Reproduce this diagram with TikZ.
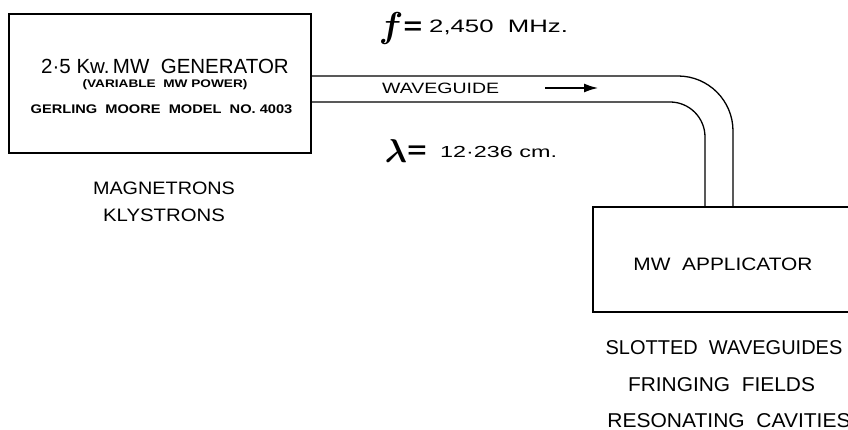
\documentclass[tikz,border=0pt]{standalone}
\usepackage{amsmath}
\usepackage{graphicx}
\usepackage{fontspec}
\setmainfont{Liberation Sans}
\usetikzlibrary{arrows.meta}
\newcommand{\hs}[2]{\scalebox{#1}[1]{#2}}
\tikzset{
  box/.style={draw, line width=1.3pt, rectangle, inner sep=0pt},
  lbl/.style={inner sep=0pt, anchor=center},
  wg/.style={line width=1.3pt},
}
\begin{document}
\begin{tikzpicture}[x=1pt,y=-1pt]
\useasboundingbox (0,0) rectangle (848,430);
\clip (0,0) rectangle (848,430);
% generator box
\node[box, minimum width=302pt, minimum height=139pt] (gen) at (160,83.5) {};
\node[lbl] (t1) at (165,66) {\fontsize{20.5}{20.5}\selectfont 2·5 Kw.\,MW\ \ GENERATOR};
\node[lbl] (t2) at (165,85) {\hs{1.24}{\fontsize{11}{11}\selectfont\bfseries (VARIABLE\ \ MW POWER)}};
\node[lbl] (t3) at (161.5,109) {\hs{1.17}{\fontsize{12.5}{12.5}\selectfont\bfseries GERLING\ \ MOORE\ \ MODEL\ \ NO.\ 4003}};
\node[lbl] (m1) at (164,188.5) {\hs{1.1}{\fontsize{18}{18}\selectfont MAGNETRONS}};
\node[lbl] (m2) at (164,215) {\hs{1.13}{\fontsize{18}{18}\selectfont KLYSTRONS}};
% applicator box
\node[box, minimum width=280pt, minimum height=105pt] (app) at (733,259.5) {};
\node[lbl] (a1) at (723,264) {\hs{1.16}{\fontsize{18}{18}\selectfont MW\ \ APPLICATOR}};
\node[lbl] (s1) at (724,347.5) {\fontsize{20}{20}\selectfont SLOTTED\ \ WAVEGUIDES};
\node[lbl] (s2) at (721.5,385) {\hs{1.045}{\fontsize{20}{20}\selectfont FRINGING\ \ FIELDS}};
\node[lbl] (s3) at (729,421) {\hs{1.05}{\fontsize{20}{20}\selectfont RESONATING\ \ CAVITIES}};
% waveguide
\draw[wg, rounded corners=55pt] (gen.east |- 0,76) -- (733,76) -- (733,0 |- app.north);
\draw[wg, rounded corners=35pt] (gen.east |- 0,102) -- (705,102) -- (705,0 |- app.north);
\node[lbl, anchor=west] (wl) at (382,88) {\hs{1.3}{\fontsize{15}{15}\selectfont WAVEGUIDE}};
\coordinate (ar1) at (545,88);
\coordinate (ar2) at (599,88);
\draw[line width=2.6pt, -{Latex[length=15pt,width=9pt]}] (ar1) -- (ar2);
% frequency
\node[lbl] (fs) at (391,29) {\scalebox{3.6}{$\boldsymbol{f}$}};
\node[lbl] (fe) at (413,28) {\scalebox{1.45}[1.1]{\fontsize{22}{22}\selectfont\bfseries =}};
\node[inner sep=0pt, anchor=base west] (fv) at (429,33) {\hs{1.43}{\fontsize{18}{18}\selectfont 2,450\ \ MHz.}};
% wavelength
\node[lbl] (ls) at (396,151.5) {\scalebox{3.3}{$\boldsymbol{\lambda}$}};
\node[lbl] (le) at (417,152) {\scalebox{1.5}[1.1]{\fontsize{22}{22}\selectfont\bfseries =}};
\node[inner sep=0pt, anchor=base west] (lv) at (440,158) {\hs{1.46}{\fontsize{16}{16}\selectfont 12·236 cm.}};
\end{tikzpicture}
\end{document}
